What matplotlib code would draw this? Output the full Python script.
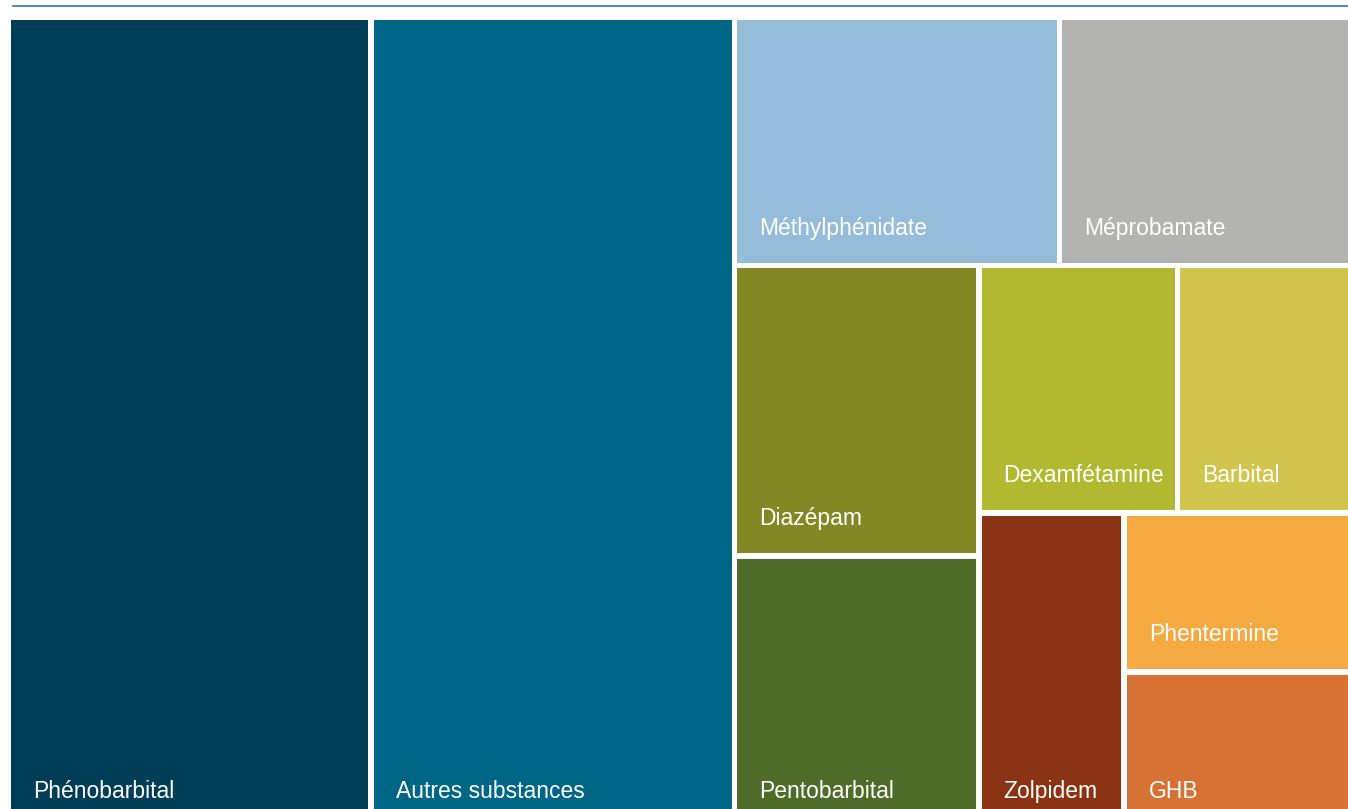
import matplotlib
matplotlib.use("Agg")
import matplotlib.pyplot as plt
from matplotlib.patches import Rectangle
from matplotlib.lines import Line2D

# ---- data ----
labels = ["Phénobarbital", "Autres substances", "Méthylphénidate", "Méprobamate",
          "Diazépam", "Pentobarbital", "Dexamfétamine", "Barbital",
          "Zolpidem", "Phentermine", "GHB"]
values = [27.0, 27.0, 7.4, 6.7, 6.5, 6.1, 4.5, 4.0, 4.2, 3.35, 3.3]
colors = ["#003d56", "#006685", "#95bcd9", "#b3b3b1", "#838824", "#4e6b28",
          "#b1b930", "#d0c64e", "#8b3415", "#f4a941", "#d67334"]


def squarify_layout(vals, x0, y0, x1, y1, ratio=0.8):
    """Squarified treemap (d3-style criterion) in a box, y growing downward."""
    rects = [None] * len(vals)
    total = float(sum(vals))
    n = len(vals)
    i0 = 0
    while i0 < n:
        dx, dy = x1 - x0, y1 - y0
        i1 = i0
        s = vals[i1]
        i1 += 1
        mn = mx = s
        alpha = max(dy / dx, dx / dy) / (total * ratio)
        beta = s * s * alpha
        best = max(mx / beta, beta / mn)
        while i1 < n:
            v = vals[i1]
            s2 = s + v
            mn2, mx2 = min(mn, v), max(mx, v)
            beta = s2 * s2 * alpha
            r = max(mx2 / beta, beta / mn2)
            if r > best:
                break
            s, mn, mx, best = s2, mn2, mx2, r
            i1 += 1
        if dx < dy:   # row along the top
            h = dy * s / total
            xx = x0
            for k in range(i0, i1):
                w = dx * vals[k] / s
                rects[k] = (xx, y0, w, h)
                xx += w
            y0 += h
        else:         # column on the left
            w = dx * s / total
            yy = y0
            for k in range(i0, i1):
                h = dy * vals[k] / s
                rects[k] = (x0, yy, w, h)
                yy += h
            x0 += w
        total -= s
        i0 = i1
    return rects


FW, FH = 1348, 809
fig = plt.figure(figsize=(FW / 100, FH / 100), dpi=100)
fig.patch.set_facecolor("white")

# treemap box in pixels (extends slightly beyond the figure, as in the reference)
L, R, T, B = 8, 1354, 17, 829
ax = fig.add_axes([L / FW, (FH - B) / FH, (R - L) / FW, (B - T) / FH])
W, H = R - L, B - T
ax.set_xlim(0, W)
ax.set_ylim(H, 0)
ax.axis("off")

rects = squarify_layout(values, 0, 0, W, H)
g = 2.8
font = ["Liberation Sans", "DejaVu Sans"]
for (x, y, w, h), lab, col in zip(rects, labels, colors):
    ax.add_patch(Rectangle((x + g, y + g), w - 2 * g, h - 2 * g,
                           facecolor=col, edgecolor="none"))
    ax.text(x + g + 22, y + h - g - 28, lab, color="white", fontsize=16.5,
            family=font, ha="left", va="baseline")

# thin rule at the top
fig.add_artist(Line2D([13 / FW, 1.0], [1 - 5.5 / FH, 1 - 5.5 / FH],
                      transform=fig.transFigure, color="#2a79b6", lw=1.2))

fig.savefig("out.png", dpi=100)
